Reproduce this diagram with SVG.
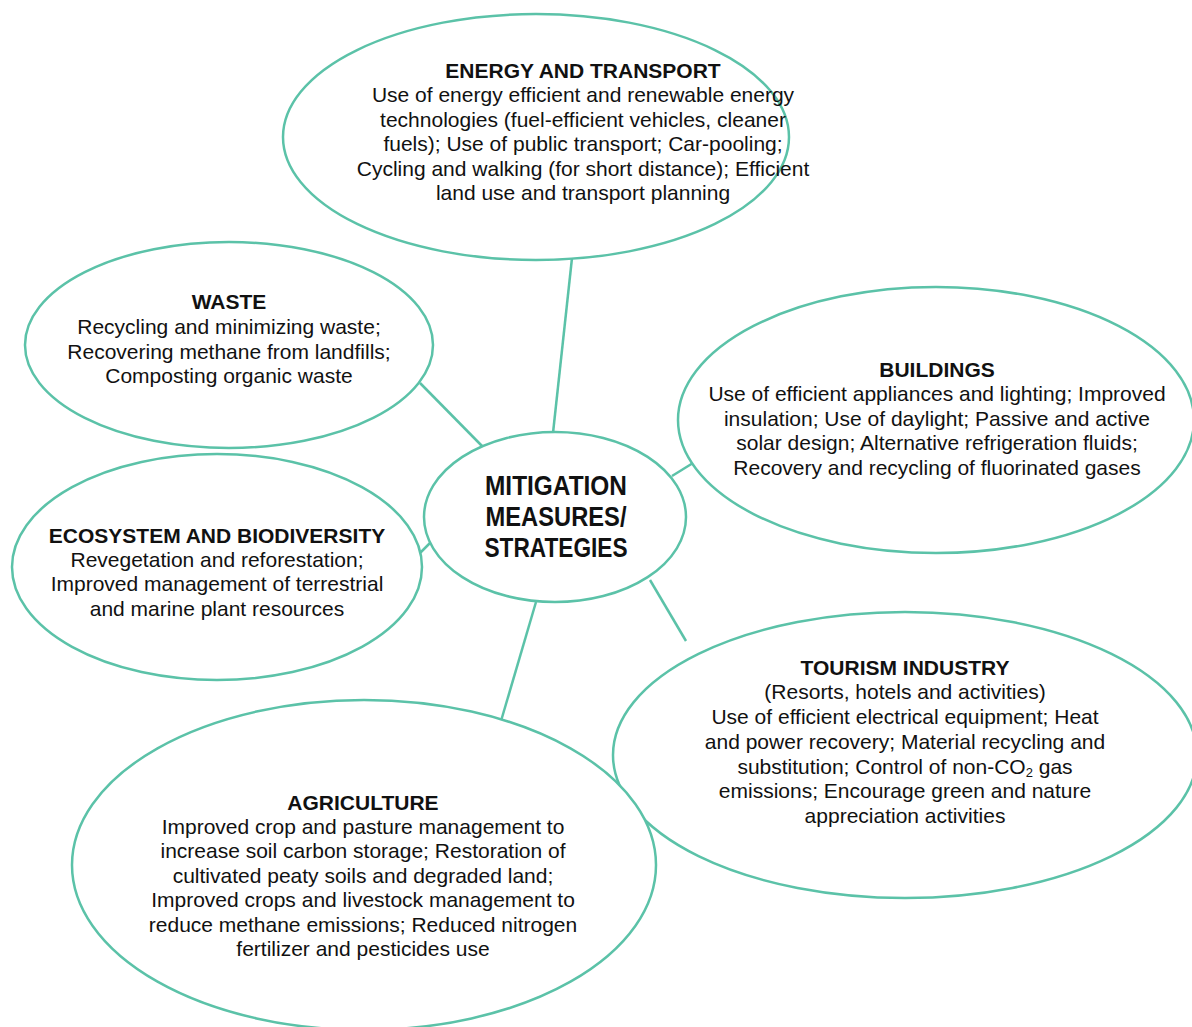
<svg xmlns="http://www.w3.org/2000/svg" width="1192" height="1027" viewBox="0 0 1192 1027">
<style>
.n{fill:#fff;stroke:#5bc2a8;stroke-width:2.5}
.c line{stroke:#5bc2a8;stroke-width:2.5}
text{font-family:"Liberation Sans",Arial,sans-serif;fill:#111;text-anchor:middle}
.t{font-size:21px;font-weight:bold}
.b{font-size:21px}
.m{font-size:27px;font-weight:bold}
</style>
<rect width="1192" height="1027" fill="#fff"/>
<g class="c">
<line x1="572" y1="258" x2="553" y2="433"/>
<line x1="420" y1="383" x2="483" y2="447"/>
<line x1="693" y1="463" x2="672" y2="476"/>
<line x1="417" y1="556" x2="430" y2="543"/>
<line x1="650" y1="580" x2="686" y2="641"/>
<line x1="536" y1="602" x2="496" y2="738"/>
</g>
<g id="energy">
<ellipse class="n" cx="536" cy="137" rx="253" ry="123"/>
<text class="t" x="583" y="78">ENERGY AND TRANSPORT</text>
<text class="b" x="583" y="102">Use of energy efficient and renewable energy</text>
<text class="b" x="583" y="127">technologies (fuel-efficient vehicles, cleaner</text>
<text class="b" x="583" y="151">fuels); Use of public transport; Car-pooling;</text>
<text class="b" x="583" y="176">Cycling and walking (for short distance); Efficient</text>
<text class="b" x="583" y="200">land use and transport planning</text>
</g>
<g id="waste">
<ellipse class="n" cx="229" cy="345" rx="204" ry="103"/>
<text class="t" x="229" y="309">WASTE</text>
<text class="b" x="229" y="334">Recycling and minimizing waste;</text>
<text class="b" x="229" y="359">Recovering methane from landfills;</text>
<text class="b" x="229" y="383">Composting organic waste</text>
</g>
<g id="buildings">
<ellipse class="n" cx="936" cy="420" rx="258" ry="133"/>
<text class="t" x="937" y="377">BUILDINGS</text>
<text class="b" x="937" y="401">Use of efficient appliances and lighting; Improved</text>
<text class="b" x="937" y="426">insulation; Use of daylight; Passive and active</text>
<text class="b" x="937" y="450">solar design; Alternative refrigeration fluids;</text>
<text class="b" x="937" y="475">Recovery and recycling of fluorinated gases</text>
</g>
<g id="ecosystem">
<ellipse class="n" cx="217" cy="567" rx="205" ry="113"/>
<text class="t" x="217" y="543">ECOSYSTEM AND BIODIVERSITY</text>
<text class="b" x="217" y="567">Revegetation and reforestation;</text>
<text class="b" x="217" y="591">Improved management of terrestrial</text>
<text class="b" x="217" y="616">and marine plant resources</text>
</g>
<g id="tourism">
<ellipse class="n" cx="905" cy="755" rx="292" ry="143"/>
<text class="t" x="905" y="675">TOURISM INDUSTRY</text>
<text class="b" x="905" y="699">(Resorts, hotels and activities)</text>
<text class="b" x="905" y="724">Use of efficient electrical equipment; Heat</text>
<text class="b" x="905" y="749">and power recovery; Material recycling and</text>
<text class="b" x="905" y="774">substitution; Control of non-CO<tspan font-size="13" dy="3">2</tspan><tspan dy="-3"> gas</tspan></text>
<text class="b" x="905" y="798">emissions; Encourage green and nature</text>
<text class="b" x="905" y="823">appreciation activities</text>
</g>
<g id="agriculture">
<ellipse class="n" cx="364" cy="865" rx="292" ry="165"/>
<text class="t" x="363" y="810">AGRICULTURE</text>
<text class="b" x="363" y="834">Improved crop and pasture management to</text>
<text class="b" x="363" y="858">increase soil carbon storage; Restoration of</text>
<text class="b" x="363" y="883">cultivated peaty soils and degraded land;</text>
<text class="b" x="363" y="907">Improved crops and livestock management to</text>
<text class="b" x="363" y="932">reduce methane emissions; Reduced nitrogen</text>
<text class="b" x="363" y="956">fertilizer and pesticides use</text>
</g>
<g id="center">
<ellipse class="n" cx="555" cy="517" rx="131" ry="85"/>
<text class="m" x="556" y="495" textLength="142" lengthAdjust="spacingAndGlyphs">MITIGATION</text>
<text class="m" x="556" y="526" textLength="141" lengthAdjust="spacingAndGlyphs">MEASURES/</text>
<text class="m" x="556" y="557" textLength="143" lengthAdjust="spacingAndGlyphs">STRATEGIES</text>
</g>
</svg>
